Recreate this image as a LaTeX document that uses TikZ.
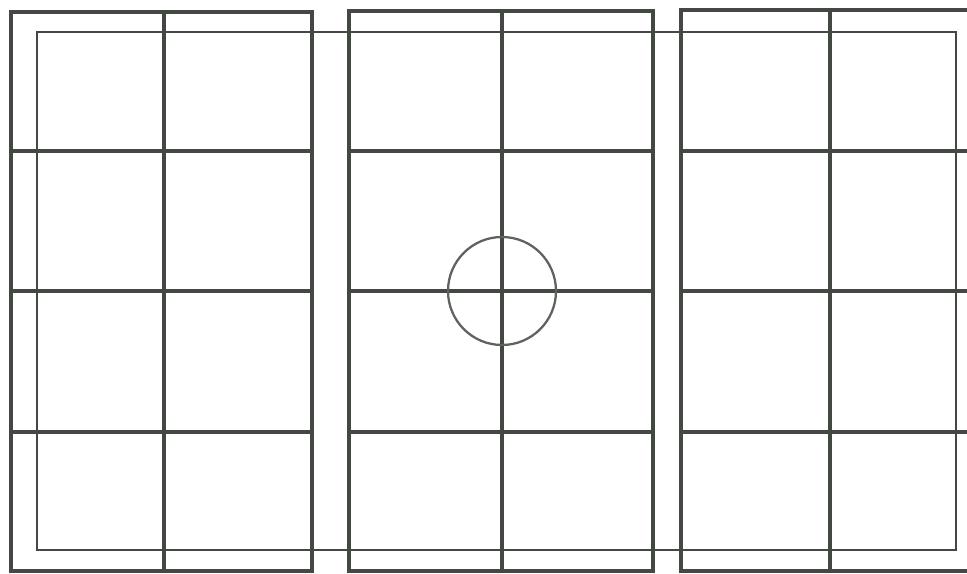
\documentclass[tikz,border=0pt]{standalone}
\usepackage{tikz}
\definecolor{linegray}{HTML}{434842}

\begin{document}
\begin{tikzpicture}[x=0.01cm,y=-0.01cm,
						frame/.style={draw=linegray,line width=1pt},
						inner/.style={draw=linegray,line width=0.65pt}]
		\useasboundingbox (0,0) rectangle (967,574);
		\clip (0,0) rectangle (967,574);

		% three panels, 2 columns x 4 rows each
		\foreach \l/\m/\r/\t in {11/164/312/12, 349/502/653/11, 681/830/980/10} {
			\draw[frame] (\l,\t) rectangle (\r,571);
			\draw[frame] (\m,\t) -- (\m,571);
			\foreach \y in {151,291,432}
				\draw[frame] (\l,\y) -- (\r,\y);
		}

		\draw[inner] (37,32) rectangle (956,550);
		\draw[inner,draw=linegray!85] (502,291) circle (54);
	\end{tikzpicture}
\end{document}
